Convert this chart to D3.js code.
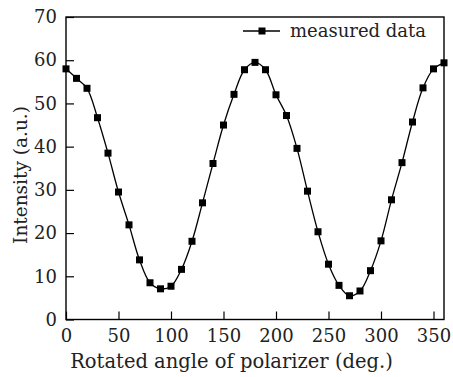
<!DOCTYPE html>
<html>
<head>
<meta charset="utf-8">
<script src="https://cdn.jsdelivr.net/npm/d3@7"></script>
<style>
  body { margin: 0; background: #fff; }
  svg { display: block; font-family: "DejaVu Serif", serif; }
</style>
</head>
<body>
<div id="chart"></div>
<script>
const angles = [0, 10, 20, 30, 40, 50, 60, 70, 80, 90, 100, 110, 120, 130, 140, 150, 160, 170, 180,
    190, 200, 210, 220, 230, 240, 250, 260, 270, 280, 290, 300, 310, 320, 330, 340, 350, 360];
const intensity = [58.0, 55.8, 53.5, 46.7, 38.5, 29.5, 21.9, 13.8, 8.5, 7.1, 7.7, 11.6, 18.1, 27.0, 36.1,
    45.0, 52.1, 57.8, 59.5, 57.8, 52.0, 47.2, 39.6, 29.7, 20.3, 12.8, 7.9, 5.5, 6.6, 11.3, 18.2,
    27.7, 36.3, 45.7, 53.6, 58.0, 59.4];
const xTicks = [0, 50, 100, 150, 200, 250, 300, 350];
const yTicks = [0, 10, 20, 30, 40, 50, 60, 70];

const data = angles.map((a, i) => ({ angle: a, value: intensity[i] }));

const W = 453, H = 377;
const margin = { top: 17, right: 9, bottom: 57.5, left: 66 };
const width = W - margin.left - margin.right;
const height = H - margin.top - margin.bottom;

const svg = d3.select("#chart")
    .append("svg")
    .attr("width", W)
    .attr("height", H)
    .append("g")
    .attr("transform", `translate(${margin.left},${margin.top})`);

const x = d3.scaleLinear().domain([0, 360]).range([0, width]);
const y = d3.scaleLinear().domain([0, 70]).range([height, 0]);

svg.append("g")
    .attr("transform", `translate(0,${height})`)
    .call(d3.axisBottom(x).tickValues(xTicks).tickSize(-8).tickSizeOuter(0).tickPadding(10));

svg.append("g")
    .call(d3.axisLeft(y).tickValues(yTicks).tickSize(-8).tickSizeOuter(0).tickPadding(9));

svg.selectAll(".domain").remove();
svg.selectAll(".tick line").attr("stroke", "#000").attr("stroke-width", 1.2);
svg.selectAll(".tick text")
    .attr("fill", "#222")
    .style("font-family", "'DejaVu Serif', serif")
    .style("font-size", "18px");

// frame
svg.append("rect")
    .attr("x", 0)
    .attr("y", 0)
    .attr("width", width)
    .attr("height", height)
    .attr("fill", "none")
    .attr("stroke", "#000")
    .attr("stroke-width", 1.4);

const line = d3.line()
    .x(d => x(d.angle))
    .y(d => y(d.value))
    .curve(d3.curveCatmullRom.alpha(0.5));

svg.append("path")
    .datum(data)
    .attr("fill", "none")
    .attr("stroke", "#000")
    .attr("stroke-width", 1.3)
    .attr("d", line);

const ms = 7;
svg.selectAll(".pt")
    .data(data)
    .enter()
    .append("rect")
    .attr("class", "pt")
    .attr("x", d => x(d.angle) - ms / 2)
    .attr("y", d => y(d.value) - ms / 2)
    .attr("width", ms)
    .attr("height", ms)
    .attr("fill", "#000");

// legend
const legend = svg.append("g")
    .attr("transform", `translate(${243 - margin.left},${31 - margin.top})`);
legend.append("line")
    .attr("x1", 0).attr("x2", 37)
    .attr("y1", 0).attr("y2", 0)
    .attr("stroke", "#000")
    .attr("stroke-width", 1.3);
legend.append("rect")
    .attr("x", 19 - ms / 2).attr("y", -ms / 2)
    .attr("width", ms).attr("height", ms)
    .attr("fill", "#000");
legend.append("text")
    .attr("x", 47)
    .attr("y", 6)
    .attr("fill", "#222")
    .style("font-size", "18px")
    .text("measured data");

// axis titles
svg.append("text")
    .attr("x", 231.5 - margin.left)
    .attr("y", 368 - margin.top)
    .attr("text-anchor", "middle")
    .attr("fill", "#222")
    .style("font-size", "19.5px")
    .text("Rotated angle of polarizer (deg.)");

svg.append("text")
    .attr("transform", "rotate(-90)")
    .attr("x", -(175 - margin.top))
    .attr("y", 27 - margin.left)
    .attr("text-anchor", "middle")
    .attr("fill", "#222")
    .style("font-size", "18.5px")
    .text("Intensity (a.u.)");
</script>
</body>
</html>
